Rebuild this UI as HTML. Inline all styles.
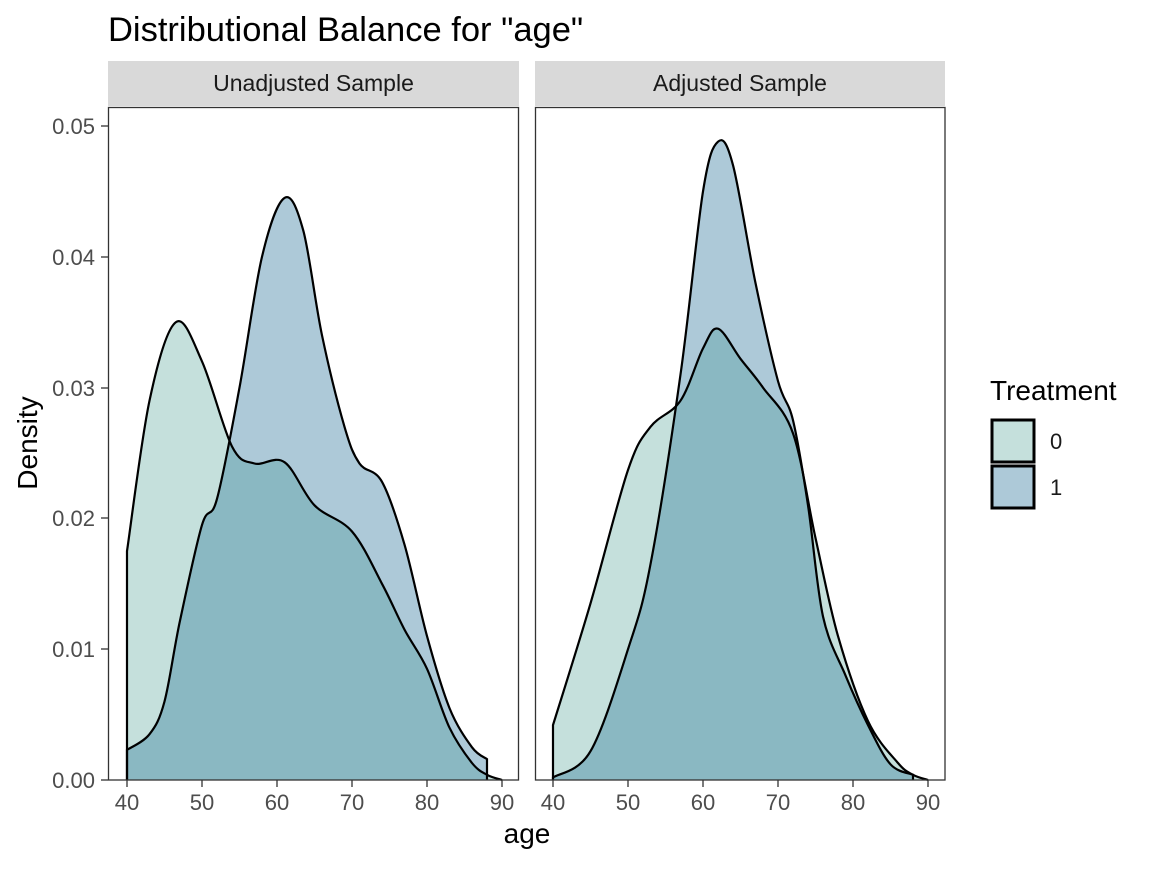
<!DOCTYPE html>
<html><head><meta charset="utf-8"><style>
body{margin:0;background:#fff;}
svg text{font-family:"Liberation Sans",Arial,sans-serif;}
</style></head><body>
<svg id="s" width="1152" height="865" viewBox="0 0 1152 865" xmlns="http://www.w3.org/2000/svg">
<rect width="1152" height="865" fill="#fff"/>
<text x="108" y="41" font-size="34.5" fill="#000">Distributional Balance for "age"</text>
<rect x="108" y="61" width="411" height="45" fill="#d9d9d9"/>
<rect x="535" y="61" width="410" height="45" fill="#d9d9d9"/>
<text x="313.5" y="91" font-size="23" fill="#1a1a1a" text-anchor="middle">Unadjusted Sample</text>
<text x="740" y="91" font-size="23" fill="#1a1a1a" text-anchor="middle">Adjusted Sample</text>
<defs>
<clipPath id="c1"><path id="cp1"/></clipPath>
<clipPath id="c2"><path id="cp2"/></clipPath>
</defs>
<g id="plots"></g>
<rect x="108.5" y="107.5" width="410" height="672.5" fill="none" stroke="#333" stroke-width="1.3"/>
<rect x="535.5" y="107.5" width="409.5" height="672.5" fill="none" stroke="#333" stroke-width="1.3"/>
<g font-size="22" fill="#4d4d4d" text-anchor="end">
<text x="95" y="788">0.00</text><text x="95" y="657">0.01</text><text x="95" y="526">0.02</text><text x="95" y="396">0.03</text><text x="95" y="265">0.04</text><text x="95" y="134">0.05</text>
</g>
<g stroke="#333" stroke-width="1.3">
<line x1="101" x2="108" y1="780" y2="780"/><line x1="101" x2="108" y1="649" y2="649"/><line x1="101" x2="108" y1="518" y2="518"/><line x1="101" x2="108" y1="388" y2="388"/><line x1="101" x2="108" y1="257" y2="257"/><line x1="101" x2="108" y1="126" y2="126"/>
</g>
<g id="xt" font-size="22" fill="#4d4d4d" text-anchor="middle"></g>
<text x="527" y="843" font-size="28" text-anchor="middle">age</text>
<text transform="translate(37,443) rotate(-90)" font-size="28" text-anchor="middle">Density</text>
<text x="990" y="400" font-size="28">Treatment</text>
<rect x="992" y="420" width="42" height="42" fill="#c5e0dc" stroke="#000" stroke-width="3"/>
<rect x="992" y="466" width="42" height="42" fill="#adc9d8" stroke="#000" stroke-width="3"/>
<text x="1050" y="449" font-size="22" fill="#1a1a1a">0</text>
<text x="1050" y="495" font-size="22" fill="#1a1a1a">1</text>
</svg>
<script>
function px(p,x0){return p.map(a=>[x0+(a[0]-40)*7.5,780-a[1]*13080]);}
function smooth(pts){let d="M"+pts[0][0].toFixed(1)+","+pts[0][1].toFixed(1);
for(let i=0;i<pts.length-1;i++){const p0=pts[i-1]||pts[i],p1=pts[i],p2=pts[i+1],p3=pts[i+2]||p2;
const c1=[p1[0]+(p2[0]-p0[0])/6,p1[1]+(p2[1]-p0[1])/6],c2=[p2[0]-(p3[0]-p1[0])/6,p2[1]-(p3[1]-p1[1])/6];
d+=" C"+c1.map(v=>v.toFixed(1))+" "+c2.map(v=>v.toFixed(1))+" "+p2.map(v=>v.toFixed(1));}return d;}
const P=[
{x0:127,g0:[[40,0.0175],[43,0.029],[46.5,0.035],[50,0.032],[54,0.0255],[57,0.0242],[61,0.0243],[65,0.021],[70,0.019],[74,0.015],[77,0.0115],[80,0.0085],[83,0.004],[86,0.0013],[88,0.0004],[90,0]],end0:90,
 g1:[[40,0.0023],[43,0.0035],[45,0.006],[47,0.012],[50,0.0195],[52,0.0215],[55,0.030],[58,0.040],[61,0.0445],[63.5,0.042],[66,0.034],[69,0.027],[71,0.0242],[74,0.0228],[77,0.018],[80,0.011],[83,0.0055],[86,0.0025],[88,0.0016]],end1:88},
{x0:553,g0:[[40,0.0042],[45,0.0135],[50,0.0237],[53,0.027],[57,0.029],[60,0.033],[62,0.0345],[65,0.0322],[68,0.030],[72,0.0265],[75,0.0185],[78,0.011],[82,0.0045],[86,0.0013],[88,0.0004],[90,0]],end0:90,
 g1:[[40,0.0002],[45,0.0022],[50,0.010],[53,0.0165],[57,0.031],[60,0.045],[62,0.0488],[64,0.047],[67,0.038],[70,0.0305],[72,0.0275],[74,0.021],[76,0.0125],[79,0.008],[82,0.0042],[85,0.0012],[88,0.0004]],end1:88}];
let html="";
P.forEach((p,i)=>{const a=px(p.g0,p.x0),b=px(p.g1,p.x0);
const l0=smooth(a),l1=smooth(b);
const e0=p.x0+(p.end0-40)*7.5,e1=p.x0+(p.end1-40)*7.5;
const f0="M"+p.x0+",780 L"+l0.slice(1)+" L"+e0+",780Z";
const f1="M"+p.x0+",780 L"+l1.slice(1)+" L"+e1+",780Z";
document.getElementById("cp"+(i+1)).setAttribute("d",f1);
html+=`<path d="${f0}" fill="#c5e0dc"/><path d="${f1}" fill="#adc9d8"/><path d="${f0}" fill="#8ab8c2" clip-path="url(#c${i+1})"/>`;
html+=`<path d="M${p.x0},780 L${l0.slice(1)} L${e0},780" fill="none" stroke="#000" stroke-width="2.2"/>`;
html+=`<path d="M${p.x0},780 L${l1.slice(1)} L${e1},780" fill="none" stroke="#000" stroke-width="2.2"/>`;
});
document.getElementById("plots").innerHTML=html;
let xt="";[127,553].forEach(x0=>{for(let v=40;v<=90;v+=10){const x=x0+(v-40)*7.5;
xt+=`<text x="${x}" y="810">${v}</text>`;
xt+=`<line x1="${x}" x2="${x}" y1="780" y2="787" stroke="#333" stroke-width="1.3"/>`;}});
document.getElementById("xt").innerHTML=xt;
</script>
</body></html>
